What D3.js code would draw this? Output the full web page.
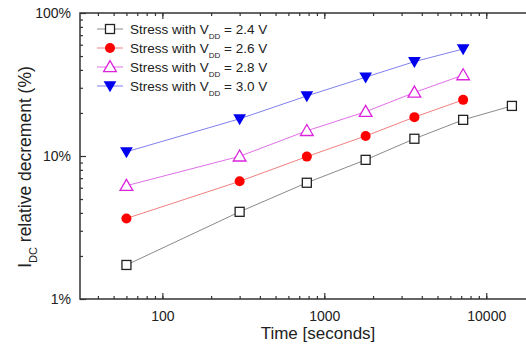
<!DOCTYPE html>
<html>
<head>
<meta charset="utf-8">
<script src="https://cdn.jsdelivr.net/npm/d3@7"></script>
<style>
  body { margin: 0; background: #fff; }
  text { font-family: "Liberation Sans", Arial, sans-serif; fill: #222; }
</style>
</head>
<body>
<div id="chart"></div>
<script>
// stress time points (seconds)
const times = [60, 300, 780, 1800, 3600, 7200, 14400];

// relative decrement (%) per stress voltage
const vdd24 = [1.73, 4.07, 6.5, 9.4, 13.2, 17.9, 22.4];
const vdd26 = [3.66, 6.65, 9.9, 13.8, 18.7, 24.7];
const vdd28 = [6.2, 9.95, 15.0, 20.4, 27.8, 36.8];
const vdd30 = [10.7, 18.2, 26.3, 35.6, 45.7, 56.0];

const seriesNames = ["2.4 V", "2.6 V", "2.8 V", "3.0 V"];
const yTickLabels = ["1%", "10%", "100%"];
const xTickLabels = ["100", "1000", "10000"];

const width = 526, height = 347;
const margin = { top: 13, right: -9, bottom: 48, left: 80 };

const svg = d3.select("#chart").append("svg")
  .attr("width", width)
  .attr("height", height);

// frame is cut off at the right edge of the picture
const x = d3.scaleLog()
  .domain([31, 20000])
  .range([margin.left, width - margin.right]);

const y = d3.scaleLog()
  .domain([1, 100])
  .range([height - margin.bottom, margin.top]);

const series = [
  { name: seriesNames[0], values: vdd24, line: "#8a8a8a", marker: "square" },
  { name: seriesNames[1], values: vdd26, line: "#f08080", marker: "circle" },
  { name: seriesNames[2], values: vdd28, line: "#e070e8", marker: "triUp" },
  { name: seriesNames[3], values: vdd30, line: "#7f7ff0", marker: "triDown" }
];

// minor + major ticks
const xMinor = [];
[10, 100, 1000, 10000].forEach(d => {
  for (let k = 1; k < 10; k++) {
    const v = d * k;
    if (v >= 31 && v <= 20000) xMinor.push(v);
  }
});
const yMinor = [];
[1, 10].forEach(d => { for (let k = 2; k < 10; k++) yMinor.push(d * k); });

const axisColor = "#333";
const x0 = margin.left, x1 = width - margin.right;
const y0 = height - margin.bottom, y1 = margin.top;

// frame
svg.append("rect")
  .attr("x", x0).attr("y", y1)
  .attr("width", x1 - x0).attr("height", y0 - y1)
  .attr("fill", "none")
  .attr("stroke", axisColor)
  .attr("stroke-width", 1.5);

function tickGroup(g) {
  g.select(".domain").remove();
  g.selectAll("line").attr("stroke", axisColor).attr("stroke-width", 1.2);
}

// bottom axis
svg.append("g")
  .attr("transform", `translate(0,${y0})`)
  .call(d3.axisBottom(x).tickValues(xMinor).tickSize(-3).tickFormat(""))
  .call(tickGroup);
svg.append("g")
  .attr("transform", `translate(0,${y0})`)
  .call(d3.axisBottom(x).tickValues([100, 1000, 10000]).tickSize(-6)
    .tickFormat((d, i) => xTickLabels[i]).tickPadding(12))
  .call(tickGroup)
  .selectAll("text")
  .style("font-size", "14px")
  .style("fill", "#222");

// top axis
svg.append("g")
  .attr("transform", `translate(0,${y1})`)
  .call(d3.axisTop(x).tickValues(xMinor).tickSize(-3).tickFormat(""))
  .call(tickGroup);
svg.append("g")
  .attr("transform", `translate(0,${y1})`)
  .call(d3.axisTop(x).tickValues([100, 1000, 10000]).tickSize(-6).tickFormat(""))
  .call(tickGroup);

// left axis
svg.append("g")
  .attr("transform", `translate(${x0},0)`)
  .call(d3.axisLeft(y).tickValues(yMinor).tickSize(-3).tickFormat(""))
  .call(tickGroup);
svg.append("g")
  .attr("transform", `translate(${x0},0)`)
  .call(d3.axisLeft(y).tickValues([1, 10, 100]).tickSize(-6)
    .tickFormat((d, i) => yTickLabels[i]).tickPadding(9))
  .call(tickGroup)
  .selectAll("text")
  .style("font-size", "14px")
  .style("fill", "#222");

// axis titles
svg.append("text")
  .attr("x", 318)
  .attr("y", 339)
  .attr("text-anchor", "middle")
  .style("font-size", "17px")
  .text("Time [seconds]");

const yTitle = svg.append("text")
  .attr("transform", `translate(31,167) rotate(-90)`)
  .attr("text-anchor", "middle")
  .style("font-size", "17.5px");
yTitle.append("tspan").text("I");
yTitle.append("tspan").attr("baseline-shift", "sub").style("font-size", "11px").text("DC");
yTitle.append("tspan").text(" relative decrement (%)");

// marker drawing
const tri = d3.symbol().type(d3.symbolTriangle).size(70);
function drawMarker(g, type, cx, cy) {
  if (type === "square") {
    g.append("rect")
      .attr("x", cx - 4.5).attr("y", cy - 4.5)
      .attr("width", 9).attr("height", 9)
      .attr("fill", "#fff").attr("stroke", "#222").attr("stroke-width", 1.3);
  } else if (type === "circle") {
    g.append("circle")
      .attr("cx", cx).attr("cy", cy).attr("r", 5)
      .attr("fill", "#ff0000");
  } else if (type === "triUp") {
    g.append("path")
      .attr("d", tri())
      .attr("transform", `translate(${cx},${cy + 1})`)
      .attr("fill", "#fff").attr("stroke", "#dd22dd").attr("stroke-width", 1.3);
  } else {
    g.append("path")
      .attr("d", tri())
      .attr("transform", `translate(${cx},${cy - 1}) rotate(180)`)
      .attr("fill", "#0000ee");
  }
}

const line = d3.line()
  .x(d => x(d[0]))
  .y(d => y(d[1]));

series.forEach(s => {
  const pts = s.values.map((v, i) => [times[i], v]);
  const g = svg.append("g");
  g.append("path")
    .datum(pts)
    .attr("d", line)
    .attr("fill", "none")
    .attr("stroke", s.line)
    .attr("stroke-width", 1);
  pts.forEach(p => drawMarker(g, s.marker, x(p[0]), y(p[1])));
});

// legend
const legend = svg.append("g").attr("transform", "translate(97,29)");
series.forEach((s, i) => {
  const row = legend.append("g").attr("transform", `translate(0,${i * 19})`);
  row.append("line")
    .attr("x1", 0).attr("x2", 26)
    .attr("stroke", s.line).attr("stroke-width", 1);
  drawMarker(row, s.marker, 13, 0);
  const t = row.append("text")
    .attr("x", 33).attr("y", 5)
    .style("font-size", "13.5px");
  t.append("tspan").text("Stress with V");
  t.append("tspan").attr("baseline-shift", "sub").style("font-size", "8px").text("DD");
  t.append("tspan").text(" = " + s.name);
});
</script>
</body>
</html>
